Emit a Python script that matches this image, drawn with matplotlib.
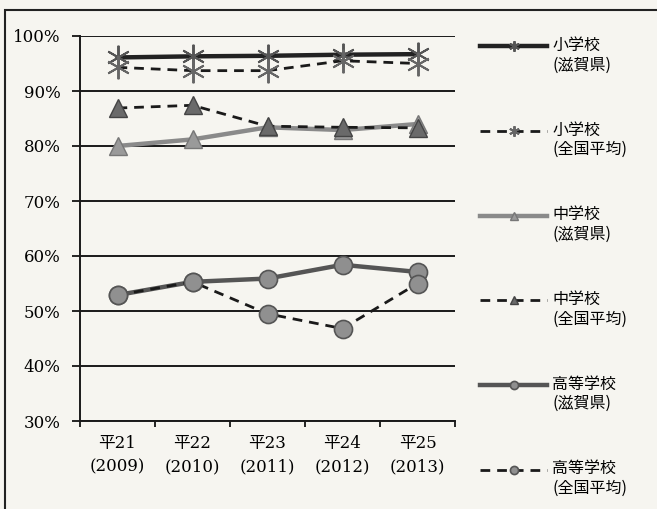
import matplotlib
matplotlib.use("Agg")
import matplotlib.pyplot as plt
from matplotlib.patches import Rectangle

years = ["平21\n(2009)", "平22\n(2010)", "平23\n(2011)", "平24\n(2012)", "平25\n(2013)"]

small_shiga = [96.1, 96.3, 96.4, 96.6, 96.7]
small_nat = [94.3, 93.7, 93.7, 95.5, 95.0]
mid_shiga = [80.0, 81.2, 83.4, 82.9, 84.0]
mid_nat = [86.9, 87.4, 83.6, 83.4, 83.3]
high_shiga = [52.9, 55.3, 55.9, 58.4, 57.1]
high_nat = [52.9, 55.3, 49.5, 46.8, 55.0]

labels = ["小学校\n(滋賀県)", "小学校\n(全国平均)", "中学校\n(滋賀県)",
          "中学校\n(全国平均)", "高等学校\n(滋賀県)", "高等学校\n(全国平均)"]

bg = "#f6f5f0"
jp = ["Noto Sans CJK JP", "DejaVu Sans"]
serif = ["DejaVu Serif", "Noto Sans CJK JP"]

fig = plt.figure(figsize=(6.57, 5.09), dpi=100, facecolor=bg)
ax = fig.add_axes([80 / 657, 1 - 421 / 509, 375 / 657, 385 / 509])
ax.set_facecolor(bg)

x = list(range(len(years)))
star = (6, 2, 0)

styles = [
    (small_shiga, dict(color="#222222", lw=3.2, ls="-", marker=star, ms=17,
                       mec="#555555", mew=1.4)),
    (small_nat, dict(color="#1a1a1a", lw=2.0, ls=(0, (3.5, 2.5)), marker=star, ms=17,
                     mec="#666666", mew=1.4)),
    (mid_shiga, dict(color="#8a8a8a", lw=3.2, ls="-", marker="^", ms=13,
                     mfc="#9a9a9a", mec="#777777", mew=1.0)),
    (mid_nat, dict(color="#1a1a1a", lw=2.0, ls=(0, (3.5, 2.5)), marker="^", ms=13,
                   mfc="#6a6a6a", mec="#444444", mew=1.0)),
    (high_shiga, dict(color="#555555", lw=3.2, ls="-", marker="o", ms=13,
                      mfc="#8f8f8f", mec="#555555", mew=1.2)),
    (high_nat, dict(color="#1a1a1a", lw=2.0, ls=(0, (3.5, 2.5)), marker="o", ms=13,
                    mfc="#909090", mec="#555555", mew=1.2)),
]

handles = []
for (vals, st), lab in zip(styles, labels):
    h, = ax.plot(x, vals, label=" \n" + lab, zorder=3, **st)
    handles.append(h)

ax.set_xlim(-0.5, 4.5)
ax.set_ylim(30, 100)
ax.set_yticks(range(30, 101, 10))
ax.set_yticklabels([f"{v}%" for v in range(30, 101, 10)], fontfamily=serif, fontsize=12)
ax.yaxis.grid(True, color="#1a1a1a", lw=1.4)
ax.set_axisbelow(True)

ax.set_xticks([i - 0.5 for i in range(len(years) + 1)])
ax.set_xticklabels([])
ax.set_xticks(x, minor=True)
ax.set_xticklabels(years, minor=True, fontfamily=serif, fontsize=12, linespacing=1.5)
ax.tick_params(axis="x", which="minor", length=0, pad=10)
ax.tick_params(axis="x", which="major", length=4, width=1.2, direction="out")
ax.tick_params(axis="y", length=6, width=1.2, direction="out", pad=8)

for s in ["top", "right"]:
    ax.spines[s].set_visible(False)
for s in ["left", "bottom"]:
    ax.spines[s].set_linewidth(1.4)
    ax.spines[s].set_color("#1a1a1a")

leg = fig.legend(handles=handles, loc="upper left",
                 bbox_to_anchor=(466 / 657, 1 - 3 / 509),
                 frameon=False, handlelength=4.2, handletextpad=0.3,
                 labelspacing=1.78, markerscale=0.45,
                 prop={"family": jp, "size": 11.5})

fig.add_artist(Rectangle((5 / 657, -0.05), 1.0, 1.05 - 10 / 509,
                         transform=fig.transFigure, fill=False,
                         lw=1.5, ec="#222222"))

fig.savefig("out.png", dpi=100, facecolor=bg)
